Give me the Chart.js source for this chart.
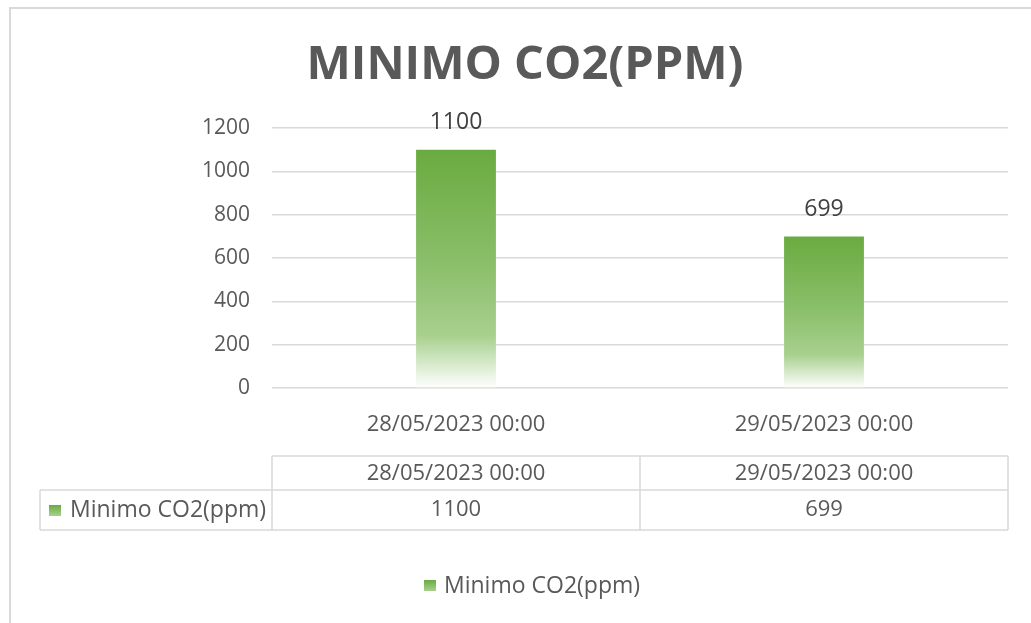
<!DOCTYPE html>
<html>
<head>
<meta charset="utf-8">
<script src="https://cdn.jsdelivr.net/npm/chart.js@4.4.0/dist/chart.umd.min.js"></script>
<style>
  html, body { margin: 0; padding: 0; background: #fff; }
  #wrap { width: 1031px; height: 623px; position: relative; }
</style>
</head>
<body>
<div id="wrap"><canvas id="co2Chart" width="1031" height="623"></canvas></div>
<script>
// Chart data
const categories = ['28/05/2023 00:00', '29/05/2023 00:00'];
const minimoValues = [1100, 699];
const seriesLabel = 'Minimo CO2(ppm)';
const chartTitle = 'MINIMO CO2(PPM)';
const yMin = 0;
const yMax = 1200;
const yStep = 200;

const textColor = '#595959';
const lineColor = '#d9d9d9';
const fontFamily = '"Open Sans", "Noto Sans", sans-serif';

// Green fading to white, like the Excel gradient fill
function barGradient(context) {
    const chart = context.chart;
    if (!chart.chartArea) return '#70ad47';
    const yScale = chart.scales.y;
    const top = yScale.getPixelForValue(context.parsed.y);
    const bottom = yScale.getPixelForValue(0);
    const g = chart.ctx.createLinearGradient(0, top, 0, bottom);
    g.addColorStop(0, '#6aab40');
    g.addColorStop(0.5, '#8cc06c');
    g.addColorStop(0.78, '#a8d08e');
    g.addColorStop(1, '#ffffff');
    return g;
}

function drawKey(ctx, x, y) {
    const g = ctx.createLinearGradient(0, y, 0, y + 11);
    g.addColorStop(0, '#6aab40');
    g.addColorStop(1, '#a8d08e');
    ctx.fillStyle = g;
    ctx.fillRect(x, y, 12, 11);
}

// Frame, title, data labels, data table and legend
const excelBits = {
    id: 'excelBits',
    beforeDraw(chart) {
        const ctx = chart.ctx;
        ctx.save();
        ctx.fillStyle = '#fff';
        ctx.fillRect(0, 0, chart.width, chart.height);
        ctx.strokeStyle = '#d9d9d9';
        ctx.lineWidth = 2;
        ctx.strokeRect(10, 8, 1060, 660);
        ctx.restore();
    },
    afterDatasetsDraw(chart) {
        const ctx = chart.ctx;
        ctx.save();
        ctx.font = '23px ' + fontFamily;
        ctx.fillStyle = '#404040';
        ctx.textAlign = 'center';
        ctx.textBaseline = 'middle';
        chart.getDatasetMeta(0).data.forEach((bar, i) => {
            ctx.fillText(String(minimoValues[i]), bar.x, bar.y - 27);
        });
        ctx.restore();
    },
    afterDraw(chart) {
        const ctx = chart.ctx;
        const area = chart.chartArea;
        const n = categories.length;
        const colW = (area.right - area.left) / n;
        ctx.save();

        // title
        ctx.font = 'bold 47px ' + fontFamily;
        ctx.fillStyle = textColor;
        ctx.textAlign = 'center';
        ctx.textBaseline = 'middle';
        ctx.fillText(chartTitle, 525, 66);

        // data table
        const r1 = 456, r2 = 490, r3 = 530, tLeft = 40;
        ctx.strokeStyle = lineColor;
        ctx.lineWidth = 1.5;
        ctx.beginPath();
        ctx.moveTo(area.left, r1); ctx.lineTo(area.right, r1);
        ctx.moveTo(tLeft, r2); ctx.lineTo(area.right, r2);
        ctx.moveTo(tLeft, r3); ctx.lineTo(area.right, r3);
        ctx.moveTo(tLeft, r2); ctx.lineTo(tLeft, r3);
        for (let i = 0; i <= n; i++) {
            const x = area.left + i * colW;
            ctx.moveTo(x, r1); ctx.lineTo(x, r3);
        }
        ctx.stroke();

        ctx.font = '22px ' + fontFamily;
        ctx.fillStyle = textColor;
        for (let i = 0; i < n; i++) {
            const cx = area.left + (i + 0.5) * colW;
            ctx.fillText(categories[i], cx, (r1 + r2) / 2 + 1);
            ctx.fillText(String(minimoValues[i]), cx, (r2 + r3) / 2);
        }
        drawKey(ctx, 49, 505);
        ctx.fillStyle = textColor;
        ctx.textAlign = 'left';
        ctx.font = '23px ' + fontFamily;
        ctx.fillText(seriesLabel, 70, (r2 + r3) / 2);

        // legend
        drawKey(ctx, 424, 580);
        ctx.fillStyle = textColor;
        ctx.fillText(seriesLabel, 444, 586);
        ctx.restore();
    }
};

new Chart(document.getElementById('co2Chart').getContext('2d'), {
    type: 'bar',
    data: {
        labels: categories,
        datasets: [{
            label: seriesLabel,
            data: minimoValues,
            backgroundColor: barGradient,
            borderWidth: 0,
            categoryPercentage: 1,
            barPercentage: 0.217
        }]
    },
    options: {
        responsive: false,
        animation: false,
        layout: {
            padding: { top: 128, right: 23, bottom: 0, left: 0 }
        },
        plugins: {
            legend: { display: false },
            title: { display: false },
            tooltip: { enabled: false }
        },
        scales: {
            x: {
                afterFit(scale) { scale.height = 235; },
                grid: { display: false, drawTicks: false },
                border: { display: false },
                ticks: {
                    padding: 24,
                    color: textColor,
                    font: { family: fontFamily, size: 22 },
                    maxRotation: 0
                }
            },
            y: {
                min: yMin,
                max: yMax,
                afterFit(scale) { scale.width = 272; },
                grid: { color: lineColor, lineWidth: 1.5, drawTicks: false },
                border: { display: false },
                ticks: {
                    stepSize: yStep,
                    padding: 22,
                    color: textColor,
                    font: { family: fontFamily, size: 21 },
                    callback: (v) => String(v)
                }
            }
        }
    },
    plugins: [excelBits]
});
</script>
</body>
</html>
